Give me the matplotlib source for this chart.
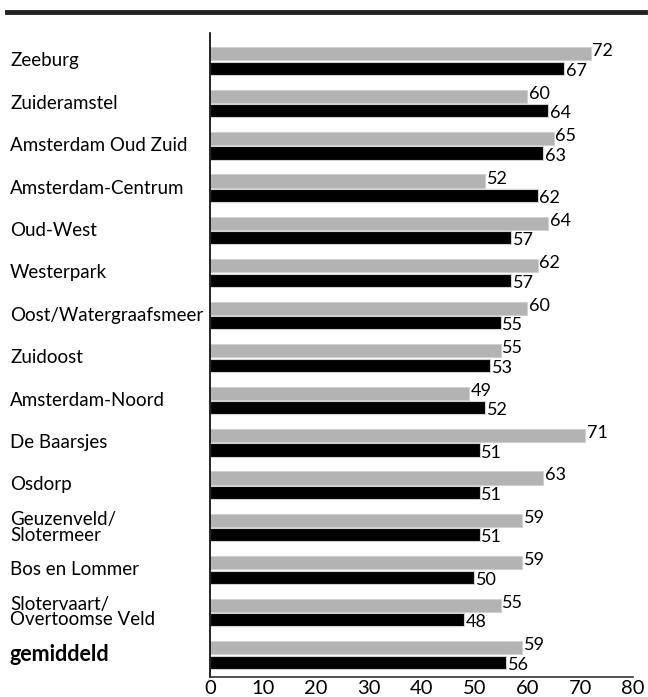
import matplotlib.pyplot as plt
from matplotlib.lines import Line2D

plt.rcParams['font.family'] = ['Lato', 'DejaVu Sans']

wijken = ['Zeeburg', 'Zuideramstel', 'Amsterdam Oud Zuid', 'Amsterdam-Centrum',
          'Oud-West', 'Westerpark', 'Oost/Watergraafsmeer', 'Zuidoost',
          'Amsterdam-Noord', 'De Baarsjes', 'Osdorp', 'Geuzenveld/\nSlotermeer',
          'Bos en Lommer', 'Slotervaart/\nOvertoomse Veld', 'gemiddeld']
grijs = [72, 60, 65, 52, 64, 62, 60, 55, 49, 71, 63, 59, 59, 55, 59]
zwart = [67, 64, 63, 62, 57, 57, 55, 53, 52, 51, 51, 51, 50, 48, 56]
xticks = [0, 10, 20, 30, 40, 50, 60, 70, 80]

fig = plt.figure(figsize=(6.48, 6.97), dpi=100)
ax = fig.add_axes([210 / 648, 20 / 697, 423 / 648, 644 / 697])

pos = list(range(len(wijken)))
h = 0.31
off = 0.17
ax.barh([p - off for p in pos], grijs, height=h, color='#b3b3b3', edgecolor='#d0d0d0', linewidth=0.8)
ax.barh([p + off for p in pos], zwart, height=h, color='black', edgecolor='#d0d0d0', linewidth=0.8)

for p, g, z in zip(pos, grijs, zwart):
    ax.text(g + 0.3, p - off - 0.06, str(g), va='center', ha='left', fontsize=13)
    ax.text(z + 0.3, p + off + 0.06, str(z), va='center', ha='left', fontsize=13)

ax.set_ylim(len(wijken) - 1 + 0.52, -0.66)
ax.set_xlim(0, 80)
ax.set_xticks(xticks)
ax.set_xticklabels([str(t) for t in xticks], fontsize=14.5)
ax.tick_params(axis='x', length=0, pad=2)
ax.set_yticks([])
for s in ['top', 'right']:
    ax.spines[s].set_visible(False)
ax.spines['left'].set_linewidth(1.2)
ax.spines['bottom'].set_linewidth(1.2)
ax.spines['bottom'].set_color('#333333')

for p, naam in zip(pos, wijken):
    y_fig = 1 - (33 + (p + 0.66) * 42.4) / 697
    vet = naam == 'gemiddeld'
    ax.text(10 / 648, y_fig, naam, transform=fig.transFigure, ha='left', va='center',
            fontsize=15.5 if vet else 13.5, fontweight='bold' if vet else 'normal',
            linespacing=0.9)

fig.add_artist(Line2D([7 / 648, 645 / 648], [1 - 11.5 / 697] * 2, color='#222222',
                      linewidth=3.5, transform=fig.transFigure))

fig.savefig('out.png', dpi=100)
